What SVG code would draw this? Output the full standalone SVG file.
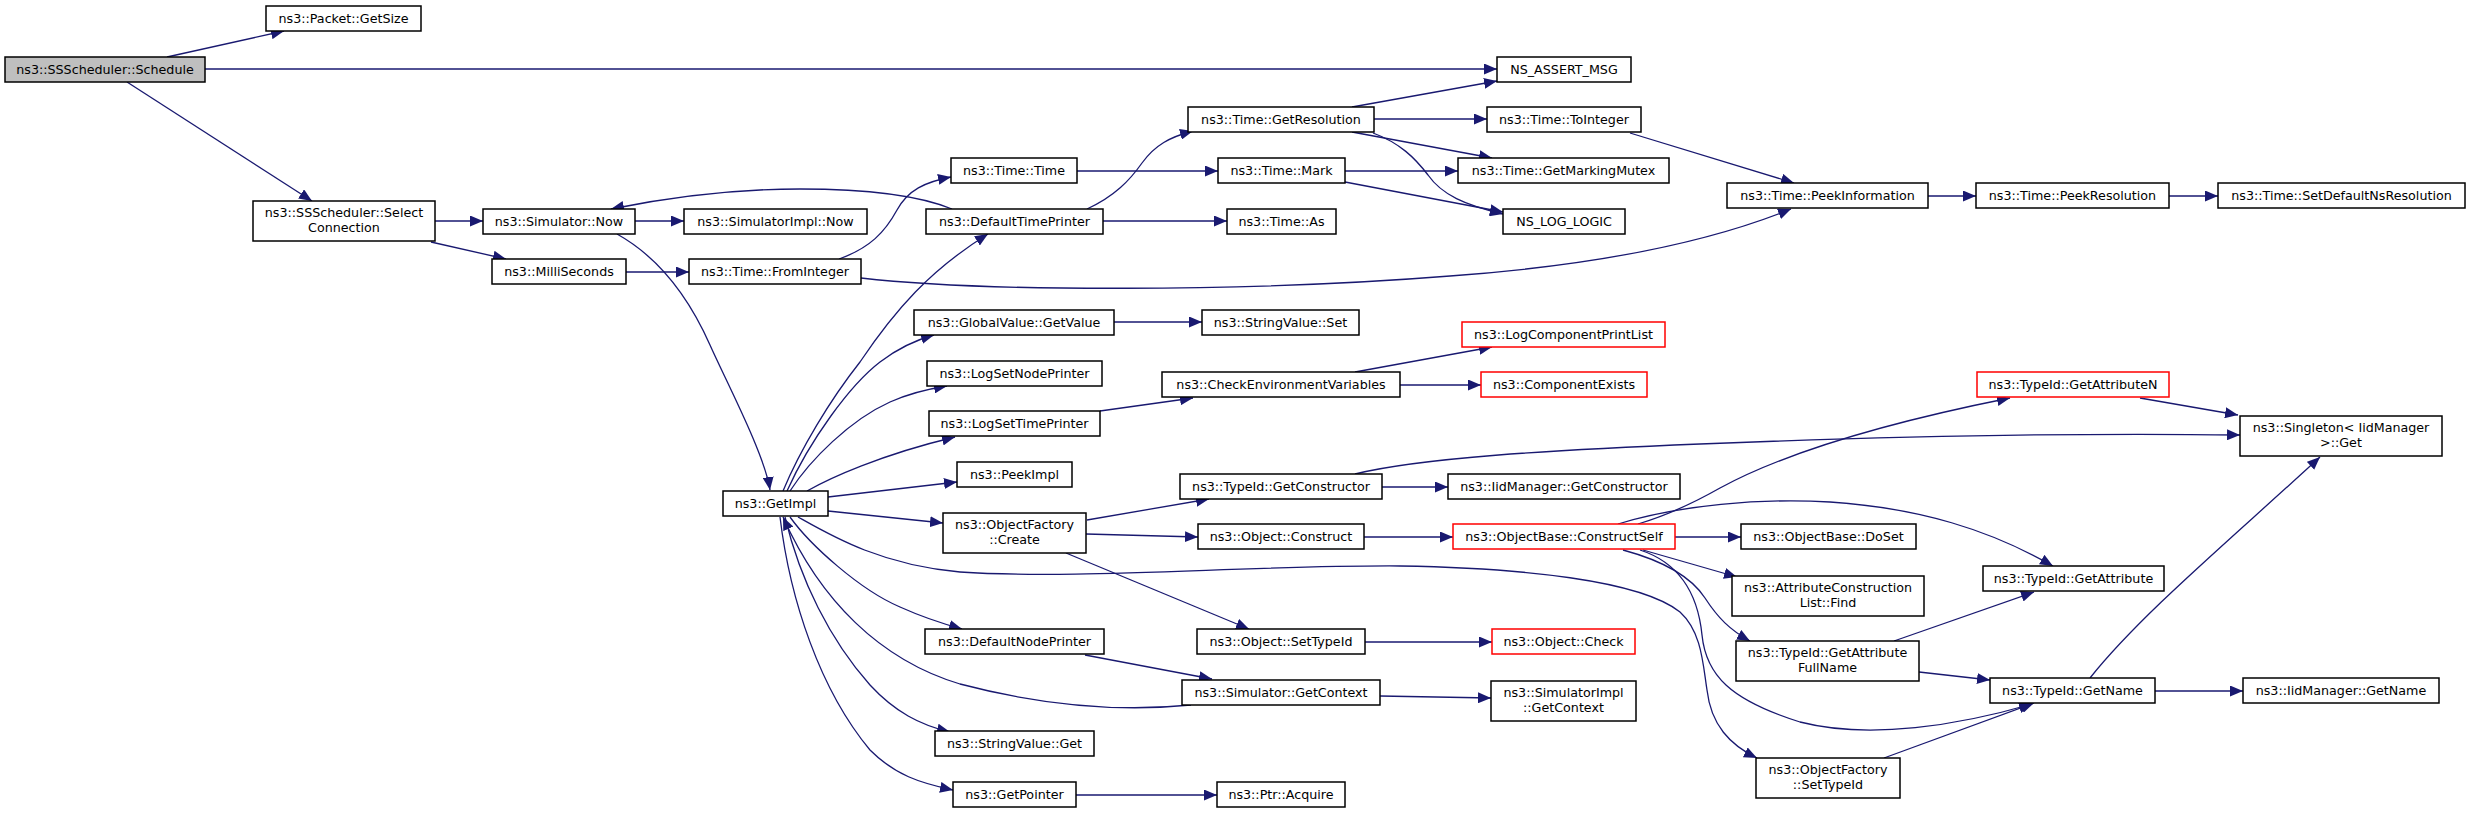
<svg xmlns="http://www.w3.org/2000/svg" width="2473" height="813" viewBox="0 0 2473 813">
<defs>
<marker id="a" markerUnits="userSpaceOnUse" markerWidth="14" markerHeight="11" refX="13" refY="5.5" orient="auto"><path d="M0,0 L13,5.5 L0,11 z" fill="#191970"/></marker>
<style>
rect{fill:#fff;stroke:#000;stroke-width:1.5}
.r rect{stroke:#ff0000}
.g rect{fill:#bfbfbf}
text{font-family:"DejaVu Sans","Liberation Sans",sans-serif;font-size:12.7px;text-anchor:middle;fill:#000}
#edges path{fill:none;stroke:#191970;stroke-width:1.3;marker-end:url(#a)}
</style>
</defs>
<rect x="0" y="0" width="2473" height="813" style="fill:#fff;stroke:none"/>
<g id="edges">
<path d="M167,57 L284,31"/>
<path d="M205,69 L1497,69"/>
<path d="M127,82 L312,201"/>
<path d="M435,221 L483,221"/>
<path d="M431,242 L506,259"/>
<path d="M635,221 L684,221"/>
<path d="M617,234 C660,258 690,300 710,345 C726,381 765,455 770,490"/>
<path d="M626,272 L689,272"/>
<path d="M839,259 C870,248 885,232 897,210 C908,190 925,182 951,177"/>
<path d="M952,209 C920,196 870,189 800,189 C730,189 660,199 611,209"/>
<path d="M861,278 C980,292 1250,292 1450,276 C1560,268 1690,250 1791,209"/>
<path d="M1077,171 L1218,171"/>
<path d="M1345,171 L1458,171"/>
<path d="M1345,182 L1503,212"/>
<path d="M1087,209 C1115,196 1130,180 1142,163 C1155,145 1170,137 1193,131"/>
<path d="M1103,221 L1227,221"/>
<path d="M1352,107 L1497,81"/>
<path d="M1374,119 L1487,119"/>
<path d="M1352,132 L1492,158"/>
<path d="M1373,133 C1400,143 1415,158 1428,175 C1442,195 1465,205 1503,214"/>
<path d="M1630,133 C1660,142 1720,160 1794,183"/>
<path d="M1928,196 L1976,196"/>
<path d="M2169,196 L2218,196"/>
<path d="M783,491 C800,450 830,400 860,362 C895,310 930,270 988,234"/>
<path d="M787,491 C810,440 850,385 880,362 C897,349 912,341 934,335"/>
<path d="M790,491 C810,460 850,420 890,402 C910,393 928,389 947,386"/>
<path d="M807,491 C830,478 880,455 955,437"/>
<path d="M828,497 L957,482"/>
<path d="M828,511 L943,523"/>
<path d="M798,517 C830,535 880,565 960,572 C1080,580 1250,565 1400,566 C1520,568 1640,580 1680,612 C1702,632 1703,665 1707,690 C1711,725 1730,745 1757,758"/>
<path d="M790,517 C810,545 860,590 900,607 C920,616 940,623 962,629"/>
<path d="M1191,705 C1120,712 1040,705 960,684 C880,660 820,600 783,517"/>
<path d="M785,517 C800,580 830,640 870,685 C895,712 920,725 950,732"/>
<path d="M780,517 C790,600 820,690 870,750 C895,775 920,783 953,790"/>
<path d="M1085,655 L1212,679"/>
<path d="M1087,520 L1209,499"/>
<path d="M1086,534 L1198,537"/>
<path d="M1066,553 L1249,629"/>
<path d="M1382,487 L1448,487"/>
<path d="M1355,474 C1420,458 1550,450 1700,444 C1900,436 2100,433 2240,435"/>
<path d="M1364,537 L1453,537"/>
<path d="M1365,642 L1492,642"/>
<path d="M1380,696 L1491,698"/>
<path d="M1076,795 L1217,795"/>
<path d="M1114,322 L1202,322"/>
<path d="M1100,411 L1193,398"/>
<path d="M1355,372 L1492,347"/>
<path d="M1400,385 L1481,385"/>
<path d="M1638,524 C1665,516 1690,505 1720,488 C1790,450 1900,420 2010,398"/>
<path d="M1618,524 C1680,505 1760,498 1830,502 C1920,508 1990,530 2053,566"/>
<path d="M1675,537 L1741,537"/>
<path d="M1643,550 L1737,577"/>
<path d="M1623,550 C1660,560 1690,575 1705,598 C1718,618 1730,630 1750,641"/>
<path d="M1640,550 C1680,563 1698,595 1702,635 C1706,675 1730,700 1800,722 C1870,740 1960,725 2032,704"/>
<path d="M2140,398 L2238,415"/>
<path d="M2090,678 C2140,615 2230,540 2320,457"/>
<path d="M2155,691 L2243,691"/>
<path d="M1894,641 L2034,592"/>
<path d="M1919,672 L1990,680"/>
<path d="M1884,758 L2034,703"/>
</g>
<g id="n1" class="g"><rect x="5" y="57" width="200" height="25"/><text x="105" y="73.5">ns3::SSScheduler::Schedule</text></g>
<g id="n2"><rect x="266" y="6" width="155" height="25"/><text x="343.5" y="22.5">ns3::Packet::GetSize</text></g>
<g id="n3"><rect x="253" y="201" width="182" height="40"/><text x="344" y="216.5">ns3::SSScheduler::Select</text><text x="344" y="231.5">Connection</text></g>
<g id="n4"><rect x="483" y="209" width="152" height="25"/><text x="559" y="225.5">ns3::Simulator::Now</text></g>
<g id="n5"><rect x="684" y="209" width="183" height="25"/><text x="775.5" y="225.5">ns3::SimulatorImpl::Now</text></g>
<g id="n6"><rect x="492" y="259" width="134" height="25"/><text x="559" y="275.5">ns3::MilliSeconds</text></g>
<g id="n7"><rect x="689" y="259" width="172" height="25"/><text x="775" y="275.5">ns3::Time::FromInteger</text></g>
<g id="n8"><rect x="1497" y="57" width="134" height="25"/><text x="1564" y="73.5">NS_ASSERT_MSG</text></g>
<g id="n9"><rect x="1188" y="107" width="186" height="25"/><text x="1281" y="123.5">ns3::Time::GetResolution</text></g>
<g id="n10"><rect x="1487" y="107" width="154" height="25"/><text x="1564" y="123.5">ns3::Time::ToInteger</text></g>
<g id="n11"><rect x="951" y="158" width="126" height="25"/><text x="1014" y="174.5">ns3::Time::Time</text></g>
<g id="n12"><rect x="1218" y="158" width="127" height="25"/><text x="1281.5" y="174.5">ns3::Time::Mark</text></g>
<g id="n13"><rect x="1458" y="158" width="211" height="25"/><text x="1563.5" y="174.5">ns3::Time::GetMarkingMutex</text></g>
<g id="n14"><rect x="926" y="209" width="177" height="25"/><text x="1014.5" y="225.5">ns3::DefaultTimePrinter</text></g>
<g id="n15"><rect x="1227" y="209" width="109" height="25"/><text x="1281.5" y="225.5">ns3::Time::As</text></g>
<g id="n16"><rect x="1503" y="209" width="122" height="25"/><text x="1564" y="225.5">NS_LOG_LOGIC</text></g>
<g id="n17"><rect x="914" y="310" width="200" height="25"/><text x="1014" y="326.5">ns3::GlobalValue::GetValue</text></g>
<g id="n18"><rect x="1202" y="310" width="157" height="25"/><text x="1280.5" y="326.5">ns3::StringValue::Set</text></g>
<g id="n19" class="r"><rect x="1462" y="322" width="203" height="25"/><text x="1563.5" y="338.5">ns3::LogComponentPrintList</text></g>
<g id="n20"><rect x="927" y="361" width="175" height="25"/><text x="1014.5" y="377.5">ns3::LogSetNodePrinter</text></g>
<g id="n21"><rect x="1162" y="372" width="238" height="25"/><text x="1281" y="388.5">ns3::CheckEnvironmentVariables</text></g>
<g id="n22" class="r"><rect x="1481" y="372" width="166" height="25"/><text x="1564" y="388.5">ns3::ComponentExists</text></g>
<g id="n23"><rect x="1727" y="183" width="201" height="25"/><text x="1827.5" y="199.5">ns3::Time::PeekInformation</text></g>
<g id="n24"><rect x="1976" y="183" width="193" height="25"/><text x="2072.5" y="199.5">ns3::Time::PeekResolution</text></g>
<g id="n25"><rect x="2218" y="183" width="247" height="25"/><text x="2341.5" y="199.5">ns3::Time::SetDefaultNsResolution</text></g>
<g id="n26" class="r"><rect x="1977" y="372" width="192" height="25"/><text x="2073" y="388.5">ns3::TypeId::GetAttributeN</text></g>
<g id="n27"><rect x="723" y="491" width="105" height="25"/><text x="775.5" y="507.5">ns3::GetImpl</text></g>
<g id="n28"><rect x="929" y="411" width="171" height="25"/><text x="1014.5" y="427.5">ns3::LogSetTimePrinter</text></g>
<g id="n29"><rect x="957" y="462" width="115" height="25"/><text x="1014.5" y="478.5">ns3::PeekImpl</text></g>
<g id="n30"><rect x="1180" y="474" width="202" height="25"/><text x="1281" y="490.5">ns3::TypeId::GetConstructor</text></g>
<g id="n31"><rect x="1448" y="474" width="232" height="25"/><text x="1564" y="490.5">ns3::IidManager::GetConstructor</text></g>
<g id="n32"><rect x="943" y="513" width="143" height="40"/><text x="1014.5" y="528.5">ns3::ObjectFactory</text><text x="1014.5" y="543.5">::Create</text></g>
<g id="n33"><rect x="1198" y="524" width="166" height="25"/><text x="1281" y="540.5">ns3::Object::Construct</text></g>
<g id="n34" class="r"><rect x="1453" y="524" width="222" height="25"/><text x="1564" y="540.5">ns3::ObjectBase::ConstructSelf</text></g>
<g id="n35"><rect x="925" y="629" width="179" height="25"/><text x="1014.5" y="645.5">ns3::DefaultNodePrinter</text></g>
<g id="n36"><rect x="1197" y="629" width="168" height="25"/><text x="1281" y="645.5">ns3::Object::SetTypeId</text></g>
<g id="n37" class="r"><rect x="1492" y="629" width="143" height="25"/><text x="1563.5" y="645.5">ns3::Object::Check</text></g>
<g id="n38"><rect x="1182" y="680" width="198" height="25"/><text x="1281" y="696.5">ns3::Simulator::GetContext</text></g>
<g id="n39"><rect x="1491" y="681" width="145" height="40"/><text x="1563.5" y="696.5">ns3::SimulatorImpl</text><text x="1563.5" y="711.5">::GetContext</text></g>
<g id="n40"><rect x="935" y="731" width="159" height="25"/><text x="1014.5" y="747.5">ns3::StringValue::Get</text></g>
<g id="n41"><rect x="953" y="782" width="123" height="25"/><text x="1014.5" y="798.5">ns3::GetPointer</text></g>
<g id="n42"><rect x="1217" y="782" width="128" height="25"/><text x="1281" y="798.5">ns3::Ptr::Acquire</text></g>
<g id="n43"><rect x="2240" y="416" width="202" height="40"/><text x="2341" y="431.5">ns3::Singleton&lt; IidManager</text><text x="2341" y="446.5">&gt;::Get</text></g>
<g id="n44"><rect x="1741" y="524" width="175" height="25"/><text x="1828.5" y="540.5">ns3::ObjectBase::DoSet</text></g>
<g id="n45"><rect x="1732" y="576" width="192" height="40"/><text x="1828" y="591.5">ns3::AttributeConstruction</text><text x="1828" y="606.5">List::Find</text></g>
<g id="n46"><rect x="1983" y="566" width="181" height="25"/><text x="2073.5" y="582.5">ns3::TypeId::GetAttribute</text></g>
<g id="n47"><rect x="1736" y="641" width="183" height="40"/><text x="1827.5" y="656.5">ns3::TypeId::GetAttribute</text><text x="1827.5" y="671.5">FullName</text></g>
<g id="n48"><rect x="1990" y="678" width="165" height="25"/><text x="2072.5" y="694.5">ns3::TypeId::GetName</text></g>
<g id="n49"><rect x="2243" y="678" width="196" height="25"/><text x="2341" y="694.5">ns3::IidManager::GetName</text></g>
<g id="n50"><rect x="1756" y="758" width="144" height="40"/><text x="1828" y="773.5">ns3::ObjectFactory</text><text x="1828" y="788.5">::SetTypeId</text></g>
</svg>
